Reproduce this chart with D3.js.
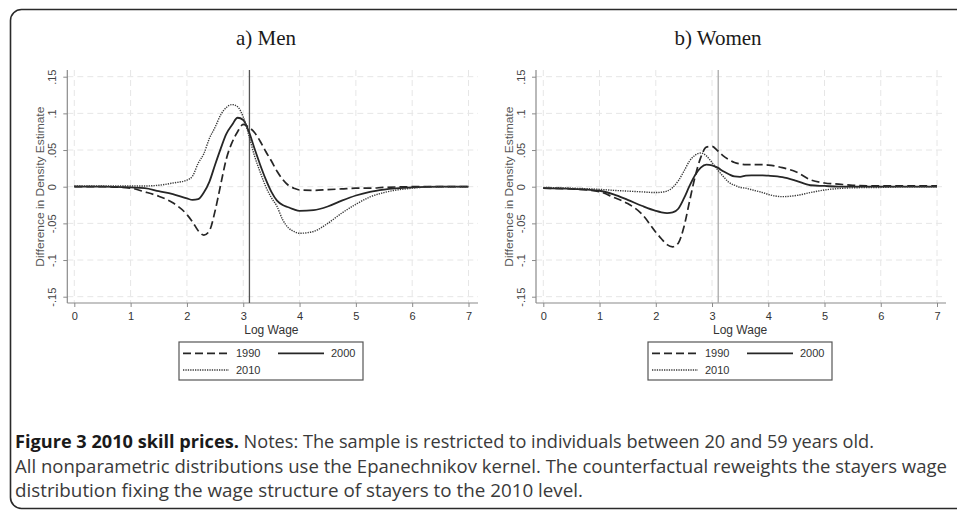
<!DOCTYPE html>
<html>
<head>
<meta charset="utf-8">
<script src="https://cdn.jsdelivr.net/npm/d3@7"></script>
<style>
  html, body { margin: 0; padding: 0; background: #fff; }
  svg { display: block; }
</style>
</head>
<body>
<svg id="chart" width="957" height="514"></svg>
<script>
// ---------------- data ----------------
const logWage = [0, 0.5, 1.0, 1.25, 1.5, 1.75, 2.0, 2.1, 2.2, 2.3, 2.4, 2.5, 2.6, 2.7, 2.8, 2.9, 3.0, 3.1, 3.2, 3.3, 3.4, 3.5, 3.6, 3.7, 3.8, 3.9, 4.0, 4.25, 4.5, 4.75, 5.0, 5.25, 5.5, 6.0, 6.5, 7.0];

const men1990 = [0, 0, -0.002, -0.007, -0.013, -0.022, -0.038, -0.048, -0.06, -0.066, -0.06, -0.033, 0.003, 0.038, 0.06, 0.075, 0.085, 0.081, 0.074, 0.062, 0.048, 0.035, 0.021, 0.01, 0.002, -0.002, -0.0045, -0.005, -0.004, -0.003, -0.002, -0.002, -0.001, 0, 0, 0];
const men2000 = [0, 0, -0.001, -0.002, -0.006, -0.010, -0.016, -0.018, -0.017, -0.008, 0.007, 0.03, 0.052, 0.072, 0.084, 0.094, 0.091, 0.075, 0.052, 0.03, 0.01, -0.007, -0.019, -0.025, -0.028, -0.031, -0.033, -0.032, -0.027, -0.019, -0.012, -0.007, -0.004, -0.001, 0, 0];
const men2010 = [0.001, 0.001, 0.001, 0.001, 0.002, 0.005, 0.009, 0.0145, 0.032, 0.045, 0.066, 0.081, 0.098, 0.108, 0.112, 0.109, 0.095, 0.07, 0.042, 0.02, 0, -0.015, -0.027, -0.045, -0.056, -0.061, -0.0635, -0.061, -0.05, -0.036, -0.024, -0.014, -0.008, -0.002, 0, 0];

const women1990 = [-0.002, -0.003, -0.007, -0.0145, -0.023, -0.037, -0.062, -0.071, -0.079, -0.082, -0.077, -0.055, -0.02, 0.014, 0.04, 0.054, 0.055, 0.049, 0.042, 0.037, 0.033, 0.031, 0.03, 0.03, 0.03, 0.03, 0.0295, 0.026, 0.02, 0.0095, 0.005, 0.0035, 0.002, 0.001, 0.001, 0.001];
const women2000 = [-0.002, -0.003, -0.0055, -0.0105, -0.018, -0.026, -0.033, -0.035, -0.036, -0.035, -0.03, -0.016, 0.001, 0.016, 0.026, 0.03, 0.029, 0.026, 0.021, 0.017, 0.014, 0.0135, 0.015, 0.0155, 0.0155, 0.0155, 0.015, 0.013, 0.008, 0.002, 0.001, 0, 0, 0, 0, 0];
const women2010 = [-0.001, -0.002, -0.0036, -0.005, -0.006, -0.007, -0.008, -0.0075, -0.006, -0.001, 0.008, 0.021, 0.035, 0.043, 0.046, 0.042, 0.033, 0.023, 0.014, 0.006, 0.002, -0.001, -0.002, -0.004, -0.006, -0.008, -0.0105, -0.0136, -0.012, -0.008, -0.0045, -0.0025, -0.0015, -0.001, 0, 0];

const seriesNames = ["1990", "2000", "2010"];
const panelTitles = ["a) Men", "b) Women"];
const xTicks = [0, 1, 2, 3, 4, 5, 6, 7];
const yTicks = [-0.15, -0.1, -0.05, 0, 0.05, 0.1, 0.15];
const yTickLabels = ["-.15", "-.1", "-.05", "0", ".05", ".1", ".15"];
const cutoffLogWage = 3.11;
const xTitle = "Log Wage";
const yTitle = "Difference in Density Estimate";
const captionBold = "Figure 3 2010 skill prices.";
const captionLines = [
  " Notes: The sample is restricted to individuals between 20 and 59 years old.",
  "All nonparametric distributions use the Epanechnikov kernel. The counterfactual reweights the stayers wage",
  "distribution fixing the wage structure of stayers to the 2010 level."
];

// ---------------- drawing ----------------
const svg = d3.select("#chart");
const SANS = "'Liberation Sans', Arial, sans-serif";

// outer rounded frame
svg.append("rect")
  .attr("x", 10.5).attr("y", 9.5)
  .attr("width", 980).attr("height", 499)
  .attr("rx", 11).attr("ry", 11)
  .attr("fill", "none").attr("stroke", "#2a2a2a").attr("stroke-width", 1.6);

const styles = [
  { dash: "8,4", width: 1.7, color: "#262626" },
  { dash: null, width: 1.8, color: "#262626" },
  { dash: "1.3,1.1", width: 1.4, color: "#3a3a3a" }
];

const panels = [
  { axisX: 67.3, x0: 74.3, x7: 468.5, right: 478, title: panelTitles[0], titleX: 266, cutColor: "#555",
    series: [men1990, men2000, men2010] },
  { axisX: 536, x0: 543.3, x7: 937, right: 946, title: panelTitles[1], titleX: 718, cutColor: "#aaa",
    series: [women1990, women2000, women2010] }
];

const yTop = 70, yBottom = 303;

panels.forEach(p => {
  const g = svg.append("g");
  const x = d3.scaleLinear().domain([0, 7]).range([p.x0, p.x7]);
  const y = d3.scaleLinear().domain([-0.15, 0.15]).range([296.7, 76.7]);

  // title
  g.append("text")
    .attr("x", p.titleX).attr("y", 45)
    .attr("text-anchor", "middle")
    .attr("font-family", "'Liberation Serif', 'Times New Roman', serif")
    .attr("font-size", 21).attr("fill", "#1a1a1a")
    .text(p.title);

  // grid
  g.selectAll(".hgrid").data(yTicks).join("line")
    .attr("x1", p.axisX).attr("x2", p.right)
    .attr("y1", d => y(d)).attr("y2", d => y(d))
    .attr("stroke", "#e6e6e6").attr("stroke-width", 1).attr("stroke-dasharray", "6,4");
  g.selectAll(".vgrid").data(xTicks).join("line")
    .attr("x1", d => x(d)).attr("x2", d => x(d))
    .attr("y1", yTop).attr("y2", yBottom)
    .attr("stroke", "#e6e6e6").attr("stroke-width", 1).attr("stroke-dasharray", "6,4");

  // y axis
  const yAxis = d3.axisLeft(y).tickValues(yTicks).tickSize(4).tickFormat((d, i) => yTickLabels[i]);
  const ya = g.append("g").attr("transform", `translate(${p.axisX},0)`).call(yAxis);
  ya.select(".domain").attr("d", `M0,${yTop}V${yBottom}`).attr("stroke", "#8a8a8a").attr("stroke-width", 1.2);
  ya.selectAll(".tick line").attr("stroke", "#8a8a8a");
  ya.selectAll(".tick text")
    .attr("font-family", SANS).attr("font-size", 11).attr("fill", "#444")
    .attr("x", null).attr("dy", null)
    .attr("text-anchor", "middle")
    .attr("transform", "translate(-11,0) rotate(-90)")
    .attr("dy", "0");

  // y title
  g.append("text")
    .attr("transform", `translate(${p.axisX - 23},${y(0)}) rotate(-90)`)
    .attr("text-anchor", "middle")
    .attr("font-family", SANS).attr("font-size", 11.5).attr("fill", "#555")
    .attr("textLength", 160).attr("lengthAdjust", "spacingAndGlyphs")
    .text(yTitle);

  // x axis
  const xAxis = d3.axisBottom(x).tickValues(xTicks).tickSize(4).tickFormat(d3.format("d"));
  const xa = g.append("g").attr("transform", `translate(0,${yBottom})`).call(xAxis);
  xa.select(".domain").attr("d", `M${p.axisX},0H${p.right}`).attr("stroke", "#8a8a8a").attr("stroke-width", 1.2);
  xa.selectAll(".tick line").attr("stroke", "#8a8a8a");
  xa.selectAll(".tick text")
    .attr("font-family", SANS).attr("font-size", 11).attr("fill", "#333")
    .attr("y", 9).attr("dy", "0.71em");

  g.append("text")
    .attr("x", (p.x0 + p.x7) / 2).attr("y", 334)
    .attr("text-anchor", "middle")
    .attr("font-family", SANS).attr("font-size", 12).attr("fill", "#333")
    .text(xTitle);

  // cutoff line
  g.append("line")
    .attr("x1", x(cutoffLogWage)).attr("x2", x(cutoffLogWage))
    .attr("y1", yTop).attr("y2", yBottom)
    .attr("stroke", p.cutColor).attr("stroke-width", 1.3);

  // series lines
  const line = d3.line().x((d, i) => x(logWage[i])).y(d => y(d)).curve(d3.curveMonotoneX);
  p.series.forEach((s, k) => {
    g.append("path")
      .attr("d", line(s))
      .attr("fill", "none")
      .attr("stroke", styles[k].color)
      .attr("stroke-width", styles[k].width)
      .attr("stroke-dasharray", styles[k].dash);
  });

  // legend
  const lx = p.x0 + 104.7, ly = 342;
  const lg = g.append("g").attr("transform", `translate(${lx},${ly})`);
  lg.append("rect").attr("x", 0).attr("y", 0).attr("width", 184).attr("height", 38)
    .attr("fill", "#fff").attr("stroke", "#555").attr("stroke-width", 1.2);
  const items = [
    { k: 0, sx: 4, sy: 11.3 },
    { k: 1, sx: 99, sy: 11.3 },
    { k: 2, sx: 4, sy: 28 }
  ];
  items.forEach(it => {
    lg.append("line")
      .attr("x1", it.sx).attr("x2", it.sx + 46)
      .attr("y1", it.sy).attr("y2", it.sy)
      .attr("stroke", styles[it.k].color)
      .attr("stroke-width", styles[it.k].width)
      .attr("stroke-dasharray", styles[it.k].dash);
    lg.append("text")
      .attr("x", it.sx + 53).attr("y", it.sy + 4)
      .attr("font-family", SANS).attr("font-size", 11).attr("fill", "#333")
      .text(seriesNames[it.k]);
  });
});

// caption
const CAP = "'Open Sans', 'Noto Sans', sans-serif";
const capX = 15;
const t1 = svg.append("text")
  .attr("x", capX).attr("y", 448)
  .attr("font-family", CAP).attr("font-size", 18).attr("fill", "#3a3a3a")
  .attr("textLength", 874 - capX).attr("lengthAdjust", "spacingAndGlyphs");
t1.append("tspan").attr("font-weight", "bold").attr("fill", "#1a1a1a").text(captionBold);
t1.append("tspan").text(captionLines[0]);

svg.append("text")
  .attr("x", capX).attr("y", 472.5)
  .attr("font-family", CAP).attr("font-size", 18).attr("fill", "#3a3a3a")
  .attr("textLength", 947 - capX).attr("lengthAdjust", "spacingAndGlyphs")
  .text(captionLines[1]);

svg.append("text")
  .attr("x", capX).attr("y", 497)
  .attr("font-family", CAP).attr("font-size", 18).attr("fill", "#3a3a3a")
  .attr("textLength", 583 - capX).attr("lengthAdjust", "spacingAndGlyphs")
  .text(captionLines[2]);
</script>
</body>
</html>
